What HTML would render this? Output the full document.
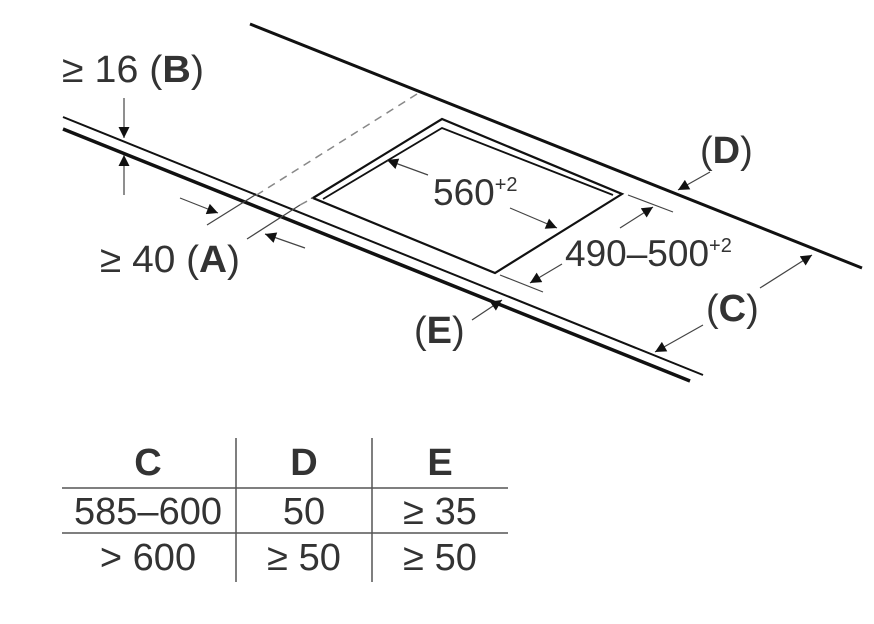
<!DOCTYPE html>
<html><head><style>body{margin:0;background:#fff}svg{display:block}text{font-family:"Liberation Sans",sans-serif;fill:#333}</style></head><body>
<svg width="874" height="624" viewBox="0 0 874 624" xmlns="http://www.w3.org/2000/svg">
<defs><marker id="a" viewBox="0 0 10 10" refX="10" refY="5" markerWidth="17" markerHeight="11" orient="auto" markerUnits="userSpaceOnUse"><path d="M0,0L10,5L0,10z" fill="#111"/></marker></defs>
<g stroke="#111" fill="none">
<line x1="250" y1="24" x2="862" y2="268" stroke-width="3"/>
<line x1="63" y1="117" x2="703" y2="375" stroke-width="2"/>
<line x1="63" y1="129" x2="690" y2="381" stroke-width="3.5"/>
<polygon points="313,198 442,119 622,194 495,273" stroke-width="2.2"/>
<polyline points="323,199 442,128 613,195" stroke-width="1.8"/>
<line x1="417" y1="94" x2="255" y2="196" stroke="#888" stroke-width="1.5" stroke-dasharray="8,6"/>
<line x1="300" y1="205" x2="313" y2="198" stroke="#888" stroke-width="1.5" stroke-dasharray="8,6"/>
<g stroke-width="1.2" stroke="#444">
<line x1="207" y1="225" x2="255" y2="195"/>
<line x1="247" y1="239" x2="300" y2="205"/>
<line x1="628" y1="195" x2="673" y2="212"/>
<line x1="500" y1="275" x2="543" y2="292"/>
<line x1="180" y1="198" x2="218" y2="213" marker-end="url(#a)"/>
<line x1="305" y1="248" x2="265" y2="234" marker-end="url(#a)"/>
<line x1="124" y1="98" x2="124" y2="138" marker-end="url(#a)"/>
<line x1="124" y1="195" x2="124" y2="155" marker-end="url(#a)"/>
<line x1="428" y1="175" x2="387" y2="160" marker-end="url(#a)"/>
<line x1="510" y1="208" x2="557" y2="228" marker-end="url(#a)"/>
<line x1="620" y1="228" x2="653" y2="207" marker-end="url(#a)"/>
<line x1="562" y1="264" x2="530" y2="283" marker-end="url(#a)"/>
<line x1="710" y1="172" x2="678" y2="190" marker-end="url(#a)"/>
<line x1="760" y1="288" x2="812" y2="255" marker-end="url(#a)"/>
<line x1="703" y1="325" x2="655" y2="352" marker-end="url(#a)"/>
<line x1="472" y1="320" x2="502" y2="300" marker-end="url(#a)"/>
</g>
<g stroke="#555" stroke-width="1.5">
<line x1="236" y1="438" x2="236" y2="582"/>
<line x1="372" y1="438" x2="372" y2="582"/>
<line x1="62" y1="488" x2="508" y2="488"/>
<line x1="62" y1="533" x2="508" y2="533"/>
</g>
</g>
<g font-size="38">
<text x="62" y="82" textLength="142" lengthAdjust="spacingAndGlyphs">≥ 16 (<tspan font-weight="bold">B</tspan>)</text>
<text x="100" y="272" textLength="140" lengthAdjust="spacingAndGlyphs">≥ 40 (<tspan font-weight="bold">A</tspan>)</text>
<text x="433" y="205" font-size="37">560<tspan font-size="20" dy="-14">+2</tspan></text>
<text x="565" y="266" font-size="37">490–500<tspan font-size="20" dy="-14">+2</tspan></text>
<text x="700" y="163">(<tspan font-weight="bold">D</tspan>)</text>
<text x="706" y="321">(<tspan font-weight="bold">C</tspan>)</text>
<text x="414" y="343">(<tspan font-weight="bold">E</tspan>)</text>
<g text-anchor="middle">
<text x="148" y="475" font-weight="bold">C</text>
<text x="304" y="475" font-weight="bold">D</text>
<text x="440" y="475" font-weight="bold">E</text>
<text x="148" y="524">585–600</text>
<text x="304" y="524">50</text>
<text x="440" y="524">≥ 35</text>
<text x="148" y="570">&gt; 600</text>
<text x="304" y="570">≥ 50</text>
<text x="440" y="570">≥ 50</text>
</g>
</g>
</svg>
</body></html>
